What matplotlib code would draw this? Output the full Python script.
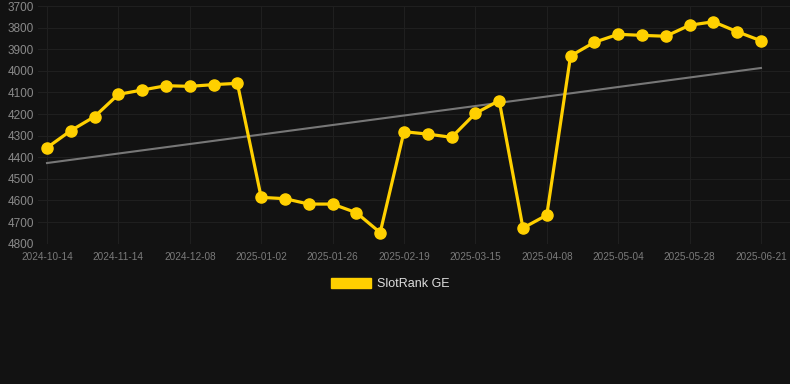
import matplotlib
matplotlib.use('Agg')
import matplotlib.pyplot as plt
from matplotlib.patches import Patch

dates = ['2024-10-14', '2024-10-24', '2024-11-03', '2024-11-14', '2024-11-22', '2024-11-30',
         '2024-12-08', '2024-12-16', '2024-12-24', '2025-01-02', '2025-01-10', '2025-01-18',
         '2025-01-26', '2025-02-03', '2025-02-11', '2025-02-19', '2025-02-27', '2025-03-07',
         '2025-03-15', '2025-03-23', '2025-03-31', '2025-04-08', '2025-04-16', '2025-04-26',
         '2025-05-04', '2025-05-12', '2025-05-20', '2025-05-28', '2025-06-05', '2025-06-13',
         '2025-06-21']
rank = [4356, 4277, 4212, 4109, 4089, 4069, 4072, 4064, 4058, 4586, 4592, 4617,
        4617, 4657, 4749, 4282, 4293, 4308, 4197, 4138, 4728, 4668, 3931, 3868,
        3831, 3836, 3840, 3789, 3773, 3819, 3861]
trend_start, trend_end = 4427, 3987
yticks = [3700, 3800, 3900, 4000, 4100, 4200, 4300, 4400, 4500, 4600, 4700, 4800]

bg = '#121212'
yellow = '#FFD000'
plt.rcParams['font.family'] = ['Liberation Sans', 'DejaVu Sans']

fig = plt.figure(figsize=(7.9, 3.84), dpi=100, facecolor=bg)
ax = fig.add_axes([38 / 790, 1 - 243.6 / 384, 1 - 38 / 790, (243.6 - 6) / 384])
ax.set_facecolor(bg)

x = list(range(len(rank)))
ax.plot([x[0], x[-1]], [trend_start, trend_end], color='#777777', lw=1.5, zorder=2)
ax.plot(x, rank, color=yellow, lw=2.3, marker='o', ms=8, zorder=3)

ax.set_ylim(4800, 3700)
ax.set_xlim(-0.378, 31.22)
ax.set_yticks(yticks)
ax.set_xticks(x[::3])
ax.set_xticklabels(dates[::3])
ax.tick_params(axis='y', colors='#8a8a8a', labelsize=8.5, length=0, pad=3)
ax.tick_params(axis='x', colors='#7a7a7a', labelsize=7.2, length=0, pad=6)
ax.grid(True, color='#1f1f1f', lw=0.8)
for s in ax.spines.values():
    s.set_visible(False)

fig.legend(handles=[Patch(facecolor=yellow, edgecolor=yellow, label='SlotRank GE')],
           loc='center', bbox_to_anchor=(390 / 790, 1 - 284 / 384), frameon=False,
           fontsize=9, labelcolor='#dddddd', handlelength=3.2, handleheight=0.85,
           handletextpad=0.5)

fig.savefig('out.png', dpi=100, facecolor=bg)
